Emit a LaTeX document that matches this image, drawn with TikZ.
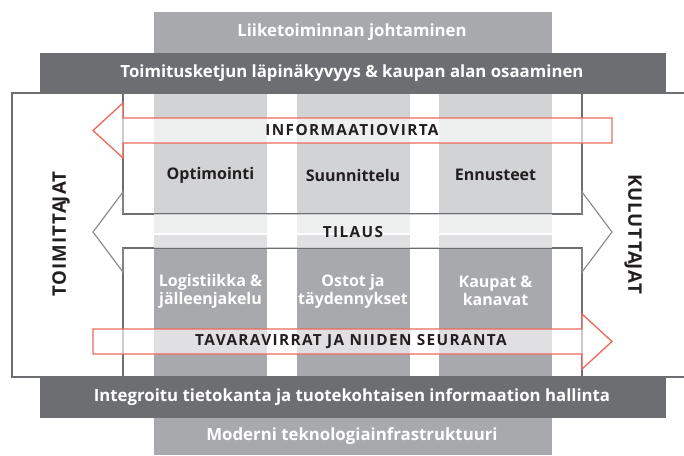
\documentclass[tikz,border=0pt]{standalone}
\usepackage{fontspec}
\setmainfont{Open Sans}
\newfontfamily\spacedfont[LetterSpace=9]{Open Sans}
\newfontfamily\vertfont[LetterSpace=5]{Open Sans}
\definecolor{darkbar}{HTML}{6D6E71}
\definecolor{lightbar}{HTML}{A7A9AC}
\definecolor{collight}{HTML}{D1D3D4}
\definecolor{coldark}{HTML}{A7A9AC}
\definecolor{flowred}{HTML}{EE6A5C}
\definecolor{framegray}{HTML}{6D6E71}
\definecolor{headgray}{HTML}{8C8D90}
\definecolor{txtdark}{HTML}{231F20}
\begin{document}
\begin{tikzpicture}[x=0.75pt,y=-0.75pt,
  bartext/.style={text=white,font=\fontsize{12.6}{14}\selectfont\bfseries,inner sep=0pt},
  coltext/.style={text=txtdark,font=\fontsize{12}{14}\selectfont\bfseries,inner sep=0pt,align=center},
  colwhite/.style={text=white,font=\fontsize{12}{13.5}\selectfont\bfseries,inner sep=0pt,align=center},
  flowtext/.style={text=txtdark,font=\spacedfont\fontsize{11.5}{13}\selectfont\bfseries,inner sep=0pt},
  sidetext/.style={text=txtdark,font=\vertfont\fontsize{14}{16}\selectfont\bfseries,inner sep=0pt},
  frameline/.style={draw=framegray,line width=0.9pt},
  headline/.style={draw=headgray,line width=0.9pt,line join=miter},
  redarrow/.style={draw=flowred,line width=1pt,fill=white,fill opacity=0.65,line join=miter},
]
\useasboundingbox (0,0) rectangle (684,455);
\fill[white] (0,0) rectangle (684,455);
% columns
\foreach \xl in {154,297,439}{
  \fill[collight] (\xl,93) rectangle ++(113,140);
  \fill[coldark] (\xl,235) rectangle ++(113,183);
}
% outer frame and inner frames
\draw[frameline] (12,93) rectangle (700,377);
\draw[frameline] (123,93) -- (123,214) -- (582,214) -- (582,93);
\draw[frameline] (123,377) -- (123,248) -- (582,248) -- (582,377);
% TILAUS band overlay
\fill[white,opacity=0.65] (154,214) rectangle (552,248);
\fill[white] (154,233) rectangle (552,235);
% TILAUS double arrow heads
\draw[headline] (123,214) -- (123,192) -- (93,232) -- (123,272) -- (123,248);
\draw[headline] (582,214) -- (582,192) -- (612,232) -- (582,272) -- (582,248);
% red arrows
\draw[redarrow] (612,118) -- (123,118) -- (123,103) -- (93,130.5) -- (123,158) -- (123,143) -- (612,143) -- cycle;
\draw[redarrow] (93,329) -- (582,329) -- (582,314) -- (612,341.5) -- (582,369) -- (582,354) -- (93,354) -- cycle;
% bars
\fill[lightbar] (154,12) rectangle (552,53);
\fill[darkbar] (40,53) rectangle (666,93);
\fill[darkbar] (40,377) rectangle (666,418);
\fill[lightbar] (154,418) rectangle (552,455);
% texts
\node[bartext] (lead) at (352,32) {Liiketoiminnan johtaminen};
\node[bartext] (trans) at (352,73) {Toimitusketjun läpinäkyvyys \& kaupan alan osaaminen};
\node[bartext] (integ) at (352,397.5) {Integroitu tietokanta ja tuotekohtaisen informaation hallinta};
\node[bartext] (tech) at (352,436.5) {Moderni teknologiainfrastruktuuri};
\node[flowtext] (info) at (352,130.5) {INFORMAATIOVIRTA};
\node[flowtext] (order) at (353,232) {TILAUS};
\node[flowtext] (goods) at (351,341.5) {TAVARAVIRRAT JA NIIDEN SEURANTA};
\node[coltext] (opt) at (210.5,175) {Optimointi};
\node[coltext] (plan) at (353,175) {Suunnittelu};
\node[coltext] (fore) at (495.5,175) {Ennusteet};
\node[colwhite] (log) at (210.5,291) {Logistiikka \&\\jälleenjakelu};
\node[colwhite] (buy) at (353,291) {Ostot ja\\täydennykset};
\node[colwhite] (shop) at (495.5,291) {Kaupat \&\\kanavat};
\node[sidetext,rotate=90] (supp) at (61,234) {TOIMITTA\kern-0.7pt JAT};
\node[sidetext,rotate=-90] (cons) at (633,234) {KULUTTA\kern-0.7pt JAT};
\end{tikzpicture}
\end{document}
